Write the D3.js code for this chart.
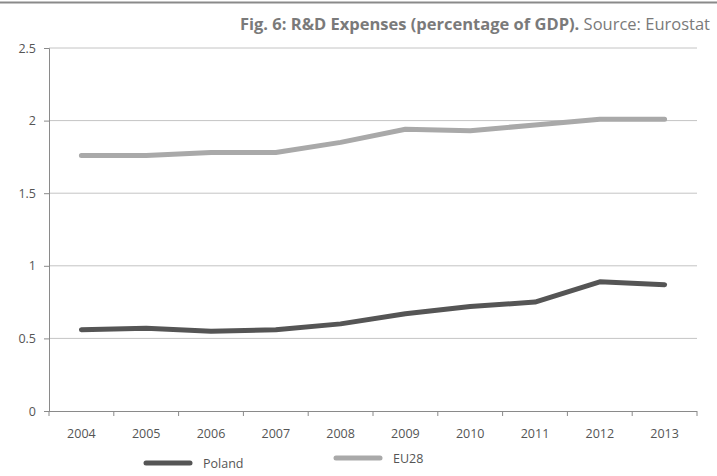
<!DOCTYPE html>
<html>
<head>
<meta charset="utf-8">
<script src="https://cdn.jsdelivr.net/npm/d3@7"></script>
<style>
  body { margin: 0; background: #fff; }
  svg { display: block; font-family: "Liberation Sans Narrow", "Open Sans", sans-serif; }
</style>
</head>
<body>
<svg id="chart" width="717" height="476"></svg>
<script>
// R&D expenditure as a share of GDP, 2004–2013
const years = ["2004", "2005", "2006", "2007", "2008", "2009", "2010", "2011", "2012", "2013"];
const poland = [0.56, 0.57, 0.55, 0.56, 0.60, 0.67, 0.72, 0.75, 0.89, 0.87];
const eu28 = [1.76, 1.76, 1.78, 1.78, 1.85, 1.94, 1.93, 1.97, 2.01, 2.01];
const yTicks = [0, 0.5, 1, 1.5, 2, 2.5];
const seriesNames = ["Poland", "EU28"];
const seriesColors = ["#555555", "#a9a9a9"];

const svg = d3.select("#chart");
const margin = { left: 49, right: 20, top: 48, bottom: 65 };
const W = 717, H = 476;

const x = d3.scaleBand().domain(years).range([49, 697]);
const y = d3.scaleLinear().domain([0, 2.5]).range([411, 48]);

// top rule
svg.append("line").attr("x1", 0).attr("x2", W).attr("y1", 2.5).attr("y2", 2.5)
  .attr("stroke", "#8a8a8a").attr("stroke-width", 2);

// title
const title = svg.append("text").attr("x", 710).attr("y", 30)
  .attr("text-anchor", "end").attr("font-size", 16.5).attr("fill", "#7a7a7a")
  .style("font-family", "'Liberation Sans Narrow', 'Open Sans', sans-serif");
title.append("tspan").attr("font-weight", "bold").text("Fig. 6: R&D Expenses (percentage of GDP).");
title.append("tspan").text(" Source: Eurostat");

// gridlines
svg.append("g").selectAll("line").data(yTicks.filter(d => d > 0)).join("line")
  .attr("x1", 49).attr("x2", 697)
  .attr("y1", d => y(d)).attr("y2", d => y(d))
  .attr("stroke", "#c4c4c4").attr("stroke-width", 1);

// y axis
const yAxis = svg.append("g").attr("transform", "translate(49,0)")
  .call(d3.axisLeft(y).tickValues(yTicks).tickSize(5).tickFormat(d => String(d)));
yAxis.select(".domain").attr("stroke", "#8a8a8a");
yAxis.selectAll(".tick line").attr("stroke", "#8a8a8a");
yAxis.selectAll(".tick text").attr("font-size", 12.5).attr("fill", "#555")
  .attr("x", -13).style("font-family", "'Liberation Sans Narrow', 'Open Sans', sans-serif");

// x axis with ticks at band boundaries
const xg = svg.append("g").attr("transform", "translate(0,411)");
xg.append("line").attr("x1", 49).attr("x2", 697).attr("y1", 0.5).attr("y2", 0.5)
  .attr("stroke", "#8a8a8a");
const bounds = years.map(d => x(d)).concat([x(years[years.length - 1]) + x.bandwidth()]);
xg.selectAll("line.tk").data(bounds).join("line").attr("class", "tk")
  .attr("x1", d => d).attr("x2", d => d).attr("y1", 0).attr("y2", 5)
  .attr("stroke", "#8a8a8a");
xg.selectAll("text").data(years).join("text")
  .attr("x", d => x(d) + x.bandwidth() / 2).attr("y", 27)
  .attr("text-anchor", "middle").attr("font-size", 12.5).attr("fill", "#555")
  .text(d => d);

// series lines
const line = d3.line()
  .x((d, i) => x(years[i]) + x.bandwidth() / 2)
  .y(d => y(d));
[poland, eu28].forEach((vals, i) => {
  svg.append("path").datum(vals)
    .attr("d", line)
    .attr("fill", "none")
    .attr("stroke", seriesColors[i])
    .attr("stroke-width", 5)
    .attr("stroke-linecap", "round")
    .attr("stroke-linejoin", "round");
});

// legend
const legendX = [146, 336];
const legendY = [463, 458];
seriesNames.forEach((name, i) => {
  svg.append("line")
    .attr("x1", legendX[i]).attr("x2", legendX[i] + 44)
    .attr("y1", legendY[i]).attr("y2", legendY[i])
    .attr("stroke", seriesColors[i]).attr("stroke-width", 5).attr("stroke-linecap", "round");
  svg.append("text").attr("x", legendX[i] + 57).attr("y", legendY[i] + 5)
    .attr("font-size", 12.5).attr("fill", "#555").text(name);
});
</script>
</body>
</html>
